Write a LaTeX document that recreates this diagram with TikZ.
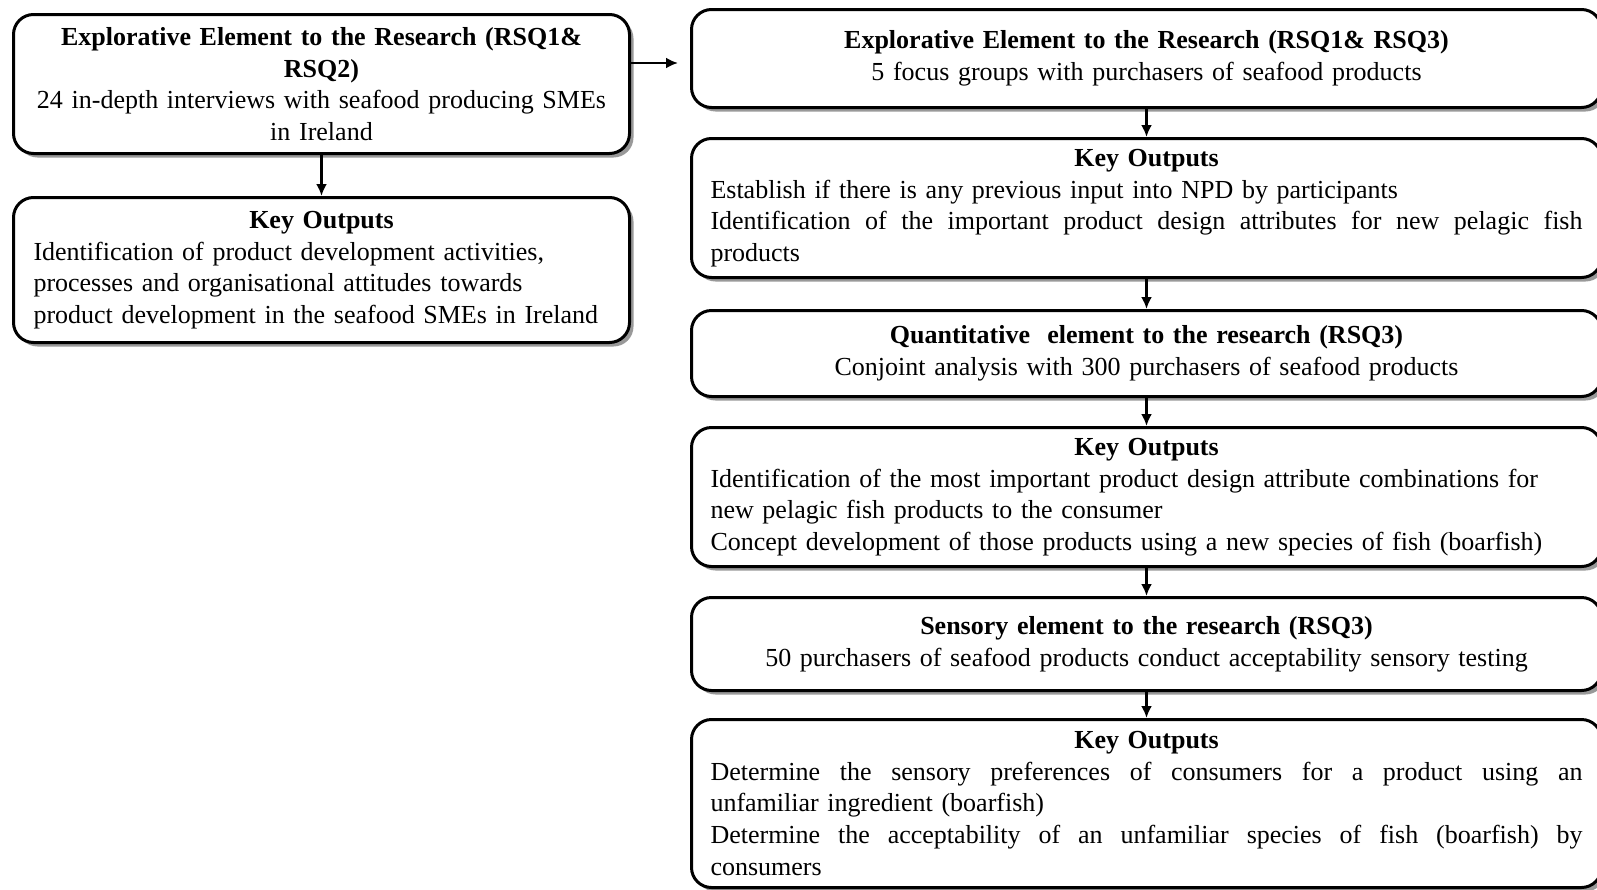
\documentclass[tikz,border=0pt]{standalone}
\usepackage{fontspec}
\setmainfont{Liberation Serif}
\usetikzlibrary{arrows.meta,shadows}
% a line set to the full text width of a right-hand box, spaces stretched
\newcommand\fullline[1]{\hbox to 872pt{\spaceskip=\fontdimen2\font plus 1fil\relax #1}}
\tikzset{
  box/.style={draw=black, line width=3pt, rounded corners=20pt, fill=white,
    anchor=north west, align=left, inner ysep=0pt,
    drop shadow={shadow xshift=4pt, shadow yshift=-4pt, fill=black!40, opacity=1},
    font=\fontsize{26}{31.6}\selectfont},
  leftbox/.style={box, text width=576pt, inner xsep=20pt},
  rightbox/.style={box, text width=872pt, inner xsep=19pt},
  arr/.style={line width=2.7pt, -{Latex[length=12pt,width=11pt]}},
}
\begin{document}
\begin{tikzpicture}[x=1pt,y=-1pt]
\useasboundingbox (0,0) rectangle (1597,889);

% left column
\node[leftbox, minimum height=139pt] (l1) at (12,13) {%
  {\centering\bfseries Explorative Element to the Research (RSQ1\&\\ RSQ2)\par}
  {\centering 24 in-depth interviews with seafood producing SMEs\\ in Ireland\par}};
\node[leftbox, minimum height=145pt] (l2) at (12,196) {%
  {\centering\bfseries Key Outputs\par}
  Identification of product development activities,\\
  processes and organisational attitudes towards\\
  product development in the seafood SMEs in Ireland};

% right column
\node[rightbox, minimum height=98pt] (r1) at (690,8) {%
  {\centering\bfseries Explorative Element to the Research (RSQ1\& RSQ3)\par}
  {\centering 5 focus groups with purchasers of seafood products\par}};
\node[rightbox, minimum height=139pt] (r2) at (690,137) {%
  {\centering\bfseries Key Outputs\par}
  Establish if there is any previous input into NPD by participants\par
  \fullline{Identification of the important product design attributes for new pelagic fish}
  products};
\node[rightbox, minimum height=86pt] (r3) at (690,309) {%
  {\centering\bfseries Quantitative\ \ element to the research (RSQ3)\par}
  {\centering Conjoint analysis with 300 purchasers of seafood products\par}};
\node[rightbox, minimum height=139pt] (r4) at (690,426) {%
  {\centering\bfseries Key Outputs\par}
  Identification of the most important product design attribute combinations for\\
  new pelagic fish products to the consumer\par
  Concept development of those products using a new species of fish (boarfish)};
\node[rightbox, minimum height=93pt] (r5) at (690,596) {%
  {\centering\bfseries Sensory element to the research (RSQ3)\par}
  {\centering 50 purchasers of seafood products conduct acceptability sensory testing\par}
  \vspace*{16pt}};
\node[rightbox, minimum height=168pt] (r6) at (690,718) {%
  {\centering\bfseries Key Outputs\par}
  \fullline{Determine the sensory preferences of consumers for a product using an}
  unfamiliar ingredient (boarfish)\par
  \fullline{Determine the acceptability of an unfamiliar species of fish (boarfish) by}
  consumers};

% connectors
\coordinate (r1in) at ([yshift=-4.5pt]r1.west);
\draw[arr] (l1.south) -- (l2.north);
\draw[arr, shorten >=12pt] (l1.east |- r1in) -- (r1in);
\draw[arr] (r1.south) -- (r2.north);
\draw[arr] (r2.south) -- (r3.north);
\draw[arr] (r3.south) -- (r4.north);
\draw[arr] (r4.south) -- (r5.north);
\draw[arr] (r5.south) -- (r6.north);
\end{tikzpicture}
\end{document}
